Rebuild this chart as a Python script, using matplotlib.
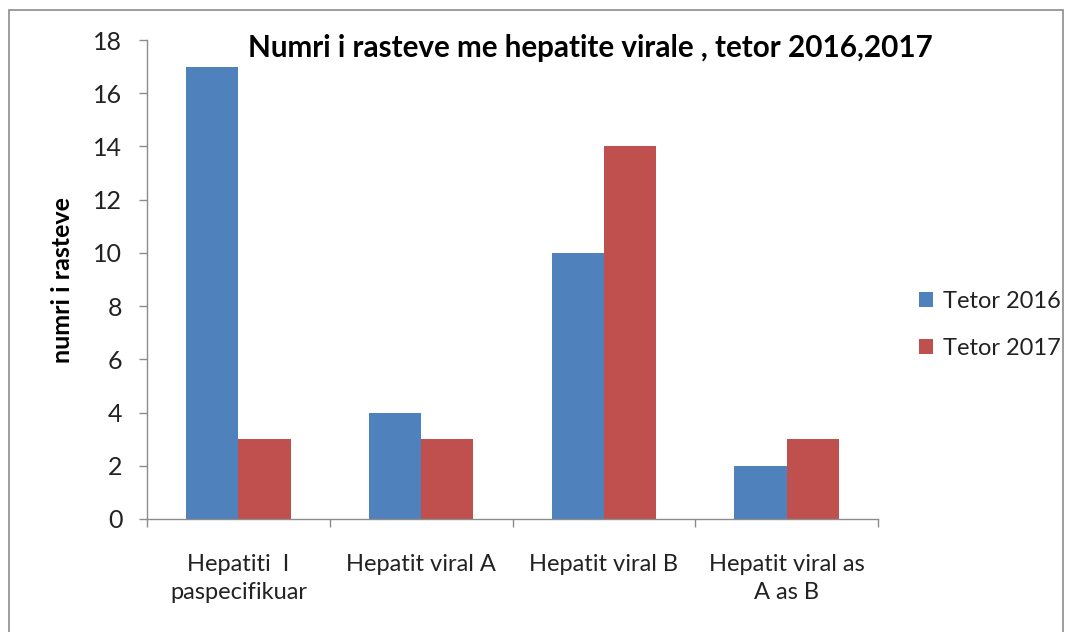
import matplotlib
matplotlib.use("Agg")
import matplotlib.pyplot as plt
import numpy as np
from matplotlib.patches import Rectangle

categories = ["Hepatiti  I\npaspecifikuar", "Hepatit viral A", "Hepatit viral B", "Hepatit viral as\nA as B"]
series_names = ["Tetor 2016", "Tetor 2017"]
tetor_2016 = [17, 4, 10, 2]
tetor_2017 = [3, 3, 14, 3]
yticks = [0, 2, 4, 6, 8, 10, 12, 14, 16, 18]
title = "Numri i rasteve me hepatite virale , tetor 2016,2017"
ylabel = "numri i rasteve"

colors = ["#4F81BD", "#C0504D"]
plt.rcParams['font.family'] = ['Lato', 'DejaVu Sans']

W, H = 1073, 632
fig = plt.figure(figsize=(W / 100, H / 100), dpi=100)
fig.patch.set_facecolor("white")

# outer border
fig.add_artist(Rectangle((9 / W, -0.01), (1063 - 9) / W, 1 - 10 / H + 0.01,
                         transform=fig.transFigure, fill=False,
                         edgecolor="#8c8c8c", linewidth=1.2))

left, right = 147, 878
top, bottom = 40, 519
ax = fig.add_axes([left / W, 1 - bottom / H, (right - left) / W, (bottom - top) / H])

n = len(categories)
x = np.arange(n)
bw = 1 / 3.5
ax.bar(x - bw / 2, tetor_2016, width=bw, color=colors[0], label=series_names[0])
ax.bar(x + bw / 2, tetor_2017, width=bw, color=colors[1], label=series_names[1])

ax.set_xlim(-0.5, n - 0.5)
ax.set_ylim(0, 18)
ax.set_yticks(yticks)
ax.set_yticklabels([str(v) for v in yticks], fontsize=18, color="#222222")
ax.set_xticks(x)
ax.set_xticklabels(categories, fontsize=17, color="#222222", linespacing=1.45)
ax.tick_params(axis="x", length=0, pad=25)
ax.set_xticks(np.arange(n + 1) - 0.5, minor=True)
ax.tick_params(axis="x", which="minor", length=5.8, color="#8c8c8c", width=1)
ax.tick_params(axis="y", length=5.8, color="#8c8c8c", width=1, pad=12)

for s in ["top", "right"]:
    ax.spines[s].set_visible(False)
for s in ["left", "bottom"]:
    ax.spines[s].set_color("#8c8c8c")
    ax.spines[s].set_linewidth(1)

fig.text(590 / W, 1 - 48 / H, title, ha="center", va="center",
         fontsize=21.3, fontweight="bold", color="black")
fig.text(62 / W, 1 - 280 / H, ylabel, ha="center", va="center", rotation=90,
         fontsize=18, fontweight="bold", color="black")

leg = fig.legend(loc="center left", bbox_to_anchor=(919 / W, 1 - 325 / H),
                 frameon=False, fontsize=17, handlelength=0.6, handleheight=0.6,
                 handletextpad=0.4, labelspacing=1.1, borderpad=0, borderaxespad=0)
for t in leg.get_texts():
    t.set_color("#222222")

fig.savefig("out.png", dpi=100, facecolor="white")
